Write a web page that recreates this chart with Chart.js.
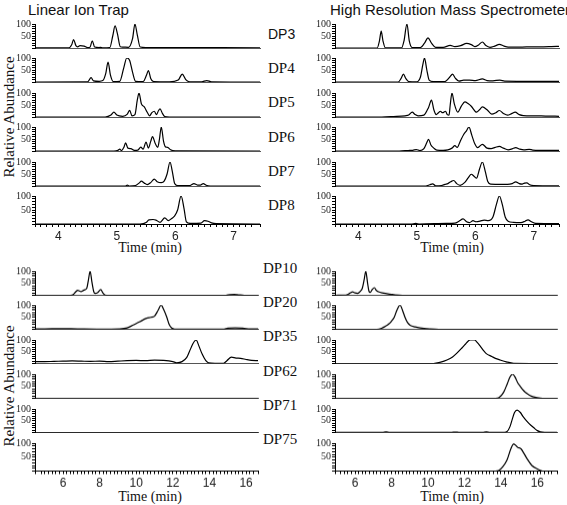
<!DOCTYPE html>
<html><head><meta charset="utf-8">
<script src="https://cdn.jsdelivr.net/npm/chart.js@4/dist/chart.umd.min.js"></script>
<style>
body{margin:0;background:#fff;width:567px;height:505px;position:relative;overflow:hidden}
.box{position:absolute}
.t{position:absolute;white-space:nowrap;color:#111;line-height:1}
.ser{font-family:'Liberation Serif','Times New Roman',serif}
.sans{font-family:'Liberation Sans',Arial,sans-serif}
</style></head><body>
<div class="t sans" style="left:28px;top:2px;font-size:15px">Linear Ion Trap</div>
<div class="t sans" style="left:330px;top:2px;font-size:15px">High Resolution Mass Spectrometer</div>
<div class="t ser" style="left:9px;top:117px;font-size:15px;transform:translate(-50%,-50%) rotate(-90deg)">Relative Abundance</div>
<div class="t ser" style="left:9px;top:386px;font-size:15px;transform:translate(-50%,-50%) rotate(-90deg)">Relative Abundance</div>
<div class="t ser" style="left:150px;top:248px;font-size:14px;transform:translate(-50%,-50%)">Time (min)</div>
<div class="t ser" style="left:452px;top:248px;font-size:14px;transform:translate(-50%,-50%)">Time (min)</div>
<div class="t ser" style="left:150px;top:497px;font-size:14px;transform:translate(-50%,-50%)">Time (min)</div>
<div class="t ser" style="left:452px;top:497px;font-size:14px;transform:translate(-50%,-50%)">Time (min)</div>
<div id="labels"></div>
<script>
// ---- categories / labels ----
const topLabels = ['DP3','DP4','DP5','DP6','DP7','DP8'];
const bottomLabels = ['DP10','DP20','DP35','DP62','DP71','DP75'];

// ---- Linear Ion Trap, DP3-DP8 : [time (min), relative abundance] ----
const lit_DP3 = [[3.6,1],[4.18,1],[4.23,15],[4.26,35],[4.3,10],[4.33,5],[4.37,10],[4.44,8],[4.5,2],[4.54,3],[4.58,30],[4.62,4],[4.7,2],[4.72,3],[4.76,1],[4.88,2],[4.93,50],[4.97,92],[5.01,60],[5.06,5],[5.1,4],[5.2,3],[5.27,40],[5.31,100],[5.35,55],[5.4,4],[5.5,2],[7.45,1]];
const lit_DP4 = [[3.6,0],[4.5,1],[4.56,18],[4.6,5],[4.7,3],[4.76,6],[4.81,35],[4.85,83],[4.89,30],[4.94,2],[5.05,3],[5.12,60],[5.17,100],[5.22,90],[5.27,40],[5.32,3],[5.45,2],[5.51,30],[5.54,48],[5.58,15],[5.63,2],[5.9,1],[6.05,8],[6.12,33],[6.18,10],[6.25,1],[6.45,1],[6.54,6],[6.62,1],[7.45,0]];
const lit_DP5 = [[3.6,0],[4.8,0],[4.9,8],[4.95,20],[5.0,8],[5.1,3],[5.18,12],[5.22,28],[5.26,5],[5.31,10],[5.35,70],[5.38,100],[5.42,55],[5.47,42],[5.52,20],[5.56,5],[5.6,18],[5.64,24],[5.68,10],[5.71,25],[5.74,34],[5.78,15],[5.82,2],[5.9,0],[7.45,0]];
const lit_DP6 = [[3.6,0],[4.95,0],[5.02,3],[5.05,8],[5.08,2],[5.12,15],[5.15,34],[5.19,12],[5.24,10],[5.3,3],[5.36,4],[5.41,16],[5.45,8],[5.5,37],[5.54,12],[5.58,40],[5.61,60],[5.66,30],[5.7,15],[5.73,50],[5.76,100],[5.8,40],[5.83,18],[5.87,15],[5.92,5],[6.0,1],[7.45,0]];
const lit_DP7 = [[3.6,0],[5.15,0],[5.18,4],[5.21,0],[5.32,2],[5.38,12],[5.42,20],[5.47,12],[5.52,6],[5.58,14],[5.64,29],[5.69,18],[5.76,14],[5.81,20],[5.86,50],[5.91,100],[5.95,60],[5.99,10],[6.04,2],[6.25,2],[6.32,10],[6.38,4],[6.43,4],[6.48,10],[6.53,3],[6.6,0],[7.45,0]];
const lit_DP8 = [[3.6,0],[5.4,0],[5.5,5],[5.55,15],[5.62,16],[5.67,14],[5.74,6],[5.82,22],[5.88,12],[5.94,20],[5.99,29],[6.04,50],[6.1,100],[6.15,55],[6.19,8],[6.26,2],[6.44,3],[6.5,12],[6.56,10],[6.62,4],[6.7,1],[7.45,0]];

// ---- High Resolution MS, DP3-DP8 ----
const hr_DP3 = [[3.6,0],[4.32,0],[4.36,30],[4.39,70],[4.42,30],[4.46,1],[4.74,1],[4.78,30],[4.83,100],[4.87,30],[4.92,2],[5.06,2],[5.13,20],[5.19,42],[5.25,20],[5.32,3],[5.45,3],[5.57,11],[5.65,6],[5.75,10],[5.85,19],[5.93,14],[5.99,6],[6.06,14],[6.12,25],[6.18,10],[6.25,3],[6.33,8],[6.41,15],[6.49,8],[6.56,4],[6.8,4],[6.95,5],[7.1,5],[7.3,6],[7.43,7]];
const hr_DP4 = [[3.6,0],[4.68,0],[4.73,15],[4.77,33],[4.81,15],[4.86,2],[5.0,1],[5.06,20],[5.1,70],[5.13,100],[5.17,50],[5.21,8],[5.28,2],[5.48,2],[5.56,20],[5.61,33],[5.66,15],[5.72,4],[5.8,8],[5.9,8],[6.0,6],[6.12,13],[6.2,6],[6.3,5],[6.42,8],[6.5,4],[7.0,3],[7.43,3]];
const hr_DP5 = [[3.6,0],[4.4,0],[4.6,2],[4.8,5],[4.86,8],[4.92,20],[4.97,10],[5.02,5],[5.12,8],[5.2,40],[5.25,70],[5.29,30],[5.33,10],[5.37,18],[5.4,24],[5.44,18],[5.49,24],[5.52,10],[5.55,8],[5.57,50],[5.6,100],[5.64,55],[5.7,20],[5.76,45],[5.82,63],[5.88,55],[5.93,45],[6.02,20],[6.07,30],[6.12,42],[6.2,30],[6.28,12],[6.35,18],[6.41,27],[6.48,15],[6.55,8],[6.62,14],[6.68,20],[6.75,10],[6.82,6],[7.0,5],[7.2,4],[7.43,3]];
const hr_DP6 = [[3.6,0],[4.7,0],[4.85,2],[4.93,3],[4.99,6],[5.05,2],[5.12,10],[5.17,35],[5.2,49],[5.24,25],[5.29,12],[5.34,4],[5.45,3],[5.53,5],[5.6,12],[5.65,22],[5.69,15],[5.74,40],[5.8,69],[5.85,85],[5.89,100],[5.94,65],[5.99,30],[6.04,14],[6.12,28],[6.2,12],[6.27,10],[6.34,15],[6.41,19],[6.48,12],[6.56,5],[6.63,9],[6.69,14],[6.76,8],[6.83,5],[6.92,7],[6.98,4],[7.1,3],[7.43,3]];
const hr_DP7 = [[3.6,0],[5.15,0],[5.22,5],[5.27,9],[5.32,1],[5.42,2],[5.48,7],[5.53,10],[5.58,18],[5.63,23],[5.68,10],[5.74,3],[5.82,15],[5.88,35],[5.93,49],[5.98,40],[6.02,33],[6.07,70],[6.12,100],[6.17,60],[6.21,20],[6.26,8],[6.45,7],[6.55,7],[6.63,10],[6.69,17],[6.75,10],[6.8,8],[6.84,12],[6.88,13],[6.93,5],[7.0,2],[7.43,1]];
const hr_DP8 = [[3.6,0],[4.9,0],[4.98,2],[5.05,0],[5.5,2],[5.65,3],[5.72,10],[5.79,18],[5.85,8],[5.9,5],[5.96,12],[6.01,8],[6.08,10],[6.15,14],[6.22,12],[6.3,25],[6.36,70],[6.41,100],[6.46,70],[6.51,25],[6.56,10],[6.65,6],[6.78,5],[6.85,10],[6.9,15],[6.96,8],[7.03,2],[7.43,1]];

// ---- Linear Ion Trap, DP10-DP75 ----
const lit_DP10 = [[4.47,0],[6.4,0],[6.56,3],[6.7,15],[6.8,21],[6.9,18],[6.98,15],[7.15,22],[7.3,30],[7.38,60],[7.48,100],[7.58,55],[7.68,15],[7.75,8],[7.9,12],[8.06,24],[8.18,10],[8.3,1],[8.5,0],[14.9,0],[15.1,3],[15.35,4],[15.6,2],[15.9,0],[16.65,0]];
const lit_DP20 = [[4.47,2],[5.0,2],[5.8,3],[6.8,2],[8.0,1],[9.1,2],[9.5,6],[9.84,18],[10.2,32],[10.57,46],[10.8,50],[11.0,55],[11.2,80],[11.36,100],[11.5,82],[11.67,50],[11.8,20],[11.94,5],[12.1,1],[14.8,1],[15.0,5],[15.4,6],[15.9,4],[16.2,2],[16.65,2]];
const lit_DP35 = [[4.47,8],[5.0,8],[5.5,9],[6.0,10],[6.5,11],[7.0,10],[7.5,9],[8.0,10],[8.5,8],[9.0,10],[9.5,12],[10.0,13],[10.5,12],[11.0,14],[11.5,13],[12.0,8],[12.21,3],[12.5,8],[12.75,25],[12.9,50],[13.1,85],[13.27,100],[13.42,75],[13.6,40],[13.8,12],[13.95,3],[14.3,1],[14.77,1],[14.95,12],[15.2,27],[15.45,23],[15.7,22],[16.0,17],[16.3,13],[16.65,12]];
const lit_DP62 = [[4.47,0],[16.65,0]];
const lit_DP71 = [[4.47,0],[16.65,0]];
const lit_DP75 = [[4.47,0],[16.65,0]];

// ---- High Resolution MS, DP10-DP75 ----
const hr_DP10 = [[4.9,0],[5.4,1],[5.54,2],[5.7,8],[5.87,14],[6.0,10],[6.13,8],[6.3,18],[6.4,30],[6.5,65],[6.59,100],[6.68,55],[6.76,18],[6.83,12],[6.95,25],[7.06,32],[7.17,20],[7.28,15],[7.5,10],[7.74,7],[8.0,4],[8.2,2],[8.6,0],[17.1,0]];
const hr_DP20 = [[4.9,0],[7.2,0],[7.45,4],[7.65,12],[7.85,22],[8.01,35],[8.15,50],[8.3,80],[8.47,100],[8.6,80],[8.74,50],[8.88,28],[9.02,17],[9.3,10],[9.57,6],[10.1,2],[10.6,0],[17.1,0]];
const hr_DP35 = [[4.9,0],[10.3,0],[10.7,6],[11.04,15],[11.35,28],[11.6,45],[11.85,65],[12.05,82],[12.2,95],[12.32,100],[12.55,100],[12.7,90],[12.86,75],[13.05,55],[13.2,42],[13.5,30],[13.7,22],[13.96,15],[14.3,7],[14.7,1],[17.1,0]];
const hr_DP62 = [[4.9,0],[13.7,0],[13.9,3],[14.15,25],[14.35,60],[14.5,88],[14.64,100],[14.78,88],[14.92,65],[15.06,50],[15.25,32],[15.43,20],[15.7,8],[15.98,3],[16.3,0],[17.1,0]];
const hr_DP71 = [[4.9,1],[7.5,1],[7.7,3],[7.9,1],[11.3,1],[11.5,2],[11.7,1],[13.0,1],[13.2,3],[13.4,1],[14.2,1],[14.34,4],[14.5,25],[14.62,55],[14.75,85],[14.89,95],[15.07,85],[15.2,70],[15.35,55],[15.55,38],[15.81,20],[16.0,8],[16.17,3],[16.4,1],[17.1,1]];
const hr_DP75 = [[4.9,0],[13.7,0],[13.88,2],[14.1,15],[14.34,40],[14.55,80],[14.7,97],[14.82,92],[14.92,85],[15.1,80],[15.25,65],[15.43,45],[15.7,20],[15.98,8],[16.2,2],[16.35,0],[17.1,0]];

// ---- layout of the four panels (positions only) ----
const panels = [
  {left:35, right:260, xmin:3.6, xmax:7.45, minor:0.1, major:1, top0:23, pitch:34.4, h:29, series:[lit_DP3,lit_DP4,lit_DP5,lit_DP6,lit_DP7,lit_DP8]},
  {left:335, right:559, xmin:3.6, xmax:7.43, minor:0.1, major:1, top0:23, pitch:34.4, h:29, series:[hr_DP3,hr_DP4,hr_DP5,hr_DP6,hr_DP7,hr_DP8]},
  {left:35, right:258, xmin:4.47, xmax:16.65, minor:0.2, major:2, top0:270, pitch:34.4, h:28.5, series:[lit_DP10,lit_DP20,lit_DP35,lit_DP62,lit_DP71,lit_DP75]},
  {left:335, right:557, xmin:4.9, xmax:17.08, minor:0.2, major:2, top0:270, pitch:34.4, h:28.5, series:[hr_DP10,hr_DP20,hr_DP35,hr_DP62,hr_DP71,hr_DP75]}
];

// DP labels in the centre column
const lab = document.getElementById('labels');
topLabels.forEach((t,i)=>{
  const d=document.createElement('div');
  d.className='t '+(i===0?'sans':'ser');
  d.style.cssText+=`left:268px;top:${34+i*34.2}px;font-size:${i===0?14:15}px;transform:translateY(-50%)`;
  d.textContent=t; lab.appendChild(d);
});
bottomLabels.forEach((t,i)=>{
  const d=document.createElement('div');
  d.className='t ser';
  d.style.cssText+=`left:263px;top:${268+i*34.2}px;font-size:15px;transform:translateY(-50%)`;
  d.textContent=t; lab.appendChild(d);
});

Chart.defaults.animation=false;

function makeRow(p,i){
  const isBottom = i===5;
  const top = p.top0 + i*p.pitch;
  const padTop=6, padR=4, axisW=40, xH=isBottom?30:0, padB=isBottom?0:3;
  const div=document.createElement('div');
  div.className='box';
  div.style.left=(p.left-axisW)+'px';
  div.style.top=(top-padTop)+'px';
  div.style.width=(p.right-p.left+axisW+padR)+'px';
  div.style.height=(p.h+padTop+xH+padB)+'px';
  const cv=document.createElement('canvas');
  div.appendChild(cv); document.body.appendChild(div);
  new Chart(cv,{
    type:'line',
    data:{datasets:[{data:p.series[i].map(q=>({x:q[0],y:q[1]})),borderColor:'#000',borderWidth:1.2,pointRadius:0,fill:false,cubicInterpolationMode:'monotone'}]},
    options:{
      responsive:true,maintainAspectRatio:false,animation:false,events:[],
      layout:{autoPadding:false,padding:{top:padTop,right:padR,left:0,bottom:padB}},
      plugins:{legend:{display:false},tooltip:{enabled:false}},
      scales:{
        x:{type:'linear',min:p.xmin,max:p.xmax,afterFit:s=>{s.height=xH;},
          ticks:{display:isBottom,stepSize:p.minor,autoSkip:false,maxRotation:0,padding:2,color:'#222',
            font:{family:'Liberation Sans',size:12},
            callback:v=>{const r=Math.round(v);return (Math.abs(v-r)<1e-6&&r%p.major===0)?String(r):'';}},
          grid:{display:isBottom,drawOnChartArea:false,tickLength:3,color:'#000'},
          border:{display:true,color:isBottom?'#000':'#555',width:1}},
        y:{min:0,max:100,afterFit:s=>{s.width=axisW;},
          ticks:{stepSize:10,autoSkip:false,padding:1,color:'#222',font:{family:'Liberation Serif',size:10},
            callback:v=>{const r=Math.round(v);return (r===50||r===100)?String(r):'';}},
          grid:{drawOnChartArea:false,drawTicks:true,tickLength:3,color:'#000'},
          border:{display:true,color:'#000',width:1}}
      }
    }
  });
}
panels.forEach(p=>{for(let i=0;i<6;i++) makeRow(p,i);});
</script>
</body></html>
